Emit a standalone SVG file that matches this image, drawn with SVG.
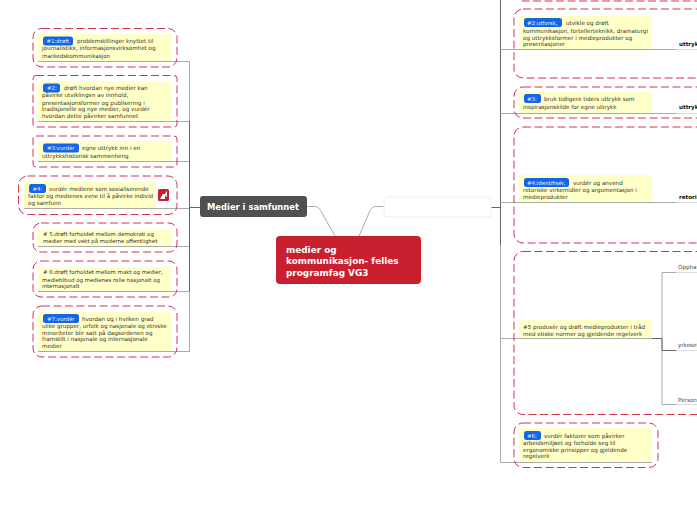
<svg xmlns="http://www.w3.org/2000/svg" width="697" height="520" viewBox="0 0 697 520">
<style>
text{font-family:"DejaVu Sans",Verdana,sans-serif}
.d{fill:none;stroke:#d0344f;stroke-width:1;stroke-dasharray:8 3.500}
.y{fill:#ffffc8}
.t{font-size:5.600px;fill:#333}
.t2{font-size:5.450px;fill:#333}
.b{fill:#1565e8}
.bt{font-size:5.400px;fill:#e8f0ff}
.l{fill:none;stroke:#aaa;stroke-width:1}
.f{fill:none;stroke:#ddd;stroke-width:1}
.k{fill:none;stroke:#666;stroke-width:1}
.u{font-size:5.600px;fill:#111;font-weight:bold}
.n{font-size:5.600px;fill:#444}
</style>
<g id="connectors">
<path class="l" d="M190 61.500H38M190 121.500H38M190 161.500H38M190 246.500H38M190 291.500H38M190 351.500H38M190 208.500H24"/>
<path class="l" d="M189.500 61V351.500"/>
<path class="k" d="M189.500 121V291M190 207.500H200"/>
<path class="l" d="M307 206.500H314C318 206.500 320 209 322 213L335 236M384 206.500H376C372 206.500 371 209 369 213L359 236"/>
<path class="k" d="M491 207.500H500.500"/>
<path class="k" d="M500.500 0V245"/>
<path class="l" d="M500.500 245V462.500"/>
<path class="l" d="M500.500 49.500H676M500.500 113.500H676M500.500 202.500H676M500.500 338.500H652M500.500 462.500H652"/>
<path class="l" d="M662 272.500V404.500M662 272.500H676M662 404.500H676"/>
<path class="k" d="M652 338.500H662V350.500H676"/>
<path class="f" d="M676 49.500H697M676 113.500H697M676 202.500H697M676 272.500H697M676 350.500H697M676 404.500H697"/>
</g>
<g id="node-1"><rect class="y" x="38" y="34" width="133" height="27"/><rect class="d" x="33" y="28.500" width="144" height="38.500" rx="9"/><rect class="b" x="43" y="36.500" width="30" height="9" rx="2.500"/><text class="bt" x="46.500" y="43">#1:drøft</text><text class="t" x="77" y="43">problemstillinger knyttet til</text><text class="t" x="42" y="50">journalistikk, informasjonsvirksomhet og</text><text class="t" x="42" y="58">markedskommunikasjon</text></g>
<g id="node-2"><rect class="y" x="38" y="81" width="133" height="40"/><rect class="d" x="33" y="75.500" width="144" height="51.500" rx="3"/><rect class="b" x="43" y="83.500" width="17" height="9" rx="2.500"/><text class="bt" x="47" y="90">#2:</text><text class="t" x="64" y="90">drøft hvordan nye medier kan</text><text class="t" x="42" y="97">påvirke utviklingen av innhold,</text><text class="t" x="42" y="105">presentasjonsformer og publisering i</text><text class="t" x="42" y="111">tradisjonelle og nye medier, og vurdér</text><text class="t" x="42" y="118">hvordan dette påvirker samfunnet</text></g>
<g id="node-3"><rect class="y" x="38" y="141" width="133" height="20"/><rect class="d" x="33" y="136" width="144" height="31" rx="3"/><rect class="b" x="43" y="143.500" width="36" height="9" rx="2.500"/><text class="bt" x="47" y="150">#3:vurdér</text><text class="t" x="82" y="150">egne uttrykk inn i en</text><text class="t" x="42" y="158">uttrykkshistorisk sammenheng</text></g>
<g id="node-4"><rect class="y" x="24" y="182" width="132" height="26"/><rect class="d" x="18.500" y="176" width="158.500" height="38.500" rx="9"/><rect class="b" x="29" y="184" width="17" height="9" rx="2.500"/><text class="bt" x="32.500" y="190.500">#4:</text><text class="t" x="49" y="190.500">vurdér mediene som sosialiserende</text><text class="t" x="28" y="198">faktor og medienes evne til å påvirke individ</text><text class="t" x="28" y="205">og samfunn</text><rect x="158" y="189" width="11" height="12" rx="1.500" fill="#c8202f"/><path d="M160 199L163 194H165V199ZM165 194L167 190.500V197L165.500 196Z" fill="#fff"/></g>
<g id="node-5"><rect class="y" x="38" y="229" width="133" height="17"/><rect class="d" x="33" y="223" width="144" height="29" rx="8"/><text class="t2" x="43" y="236">#&#160;5:drøft forholdet mellom demokrati og</text><text class="t2" x="43" y="243">medier med vekt på moderne offentlighet</text></g>
<g id="node-6"><rect class="y" x="38" y="267" width="133" height="24"/><rect class="d" x="33" y="261" width="144" height="36" rx="8"/><text class="t2" x="43" y="274">#&#160;6:drøft forholdet mellom makt og medier,</text><text class="t2" x="42" y="282">medietilbud og medienes rolle nasjonalt og</text><text class="t2" x="42" y="288">internasjonalt</text></g>
<g id="node-7"><rect class="y" x="38" y="312" width="133" height="39"/><rect class="d" x="33" y="306" width="144" height="51" rx="9"/><rect class="b" x="43" y="314" width="36" height="9" rx="2.500"/><text class="bt" x="47" y="320.500">#7:vurdér</text><text class="t" x="82" y="320.500">hvordan og i hvilken grad</text><text class="t" x="42" y="328">ulike grupper, urfolk og nasjonale og etniske</text><text class="t" x="42" y="335">minoriteter blir satt på dagsordenen og</text><text class="t" x="42" y="341">framstilt i nasjonale og internasjonale</text><text class="t" x="42" y="348">medier</text></g>
<g id="branch-left"><rect x="200" y="196" width="107" height="21" rx="3" fill="#505050"/><text x="207" y="210" font-size="8.400px" font-weight="bold" fill="#fff">Medier i samfunnet</text></g>
<g id="branch-right"><rect x="384" y="197" width="107" height="20" rx="3" fill="#fff" stroke="#eee"/></g>
<g id="root"><rect x="276" y="236" width="145" height="48" rx="4" fill="#c8202f"/><g font-size="8.900px" font-weight="bold" fill="#fff"><text x="286" y="253">medier og</text><text x="286" y="264">kommunikasjon- felles</text><text x="286" y="276">programfag VG3</text></g></g>
<g id="node-r1"><rect class="d" x="514" y="-40" width="220" height="41" rx="9"/></g>
<g id="node-r2"><rect class="y" x="519" y="16" width="133" height="33"/><rect class="d" x="514" y="9" width="220" height="69" rx="9"/><rect class="b" x="524" y="18" width="38" height="9" rx="2.500"/><text class="bt" x="527" y="25">#2:utforsk,</text><text class="t" x="566" y="25">utvikle og drøft</text><text class="t" x="523" y="33">kommunikasjon, fortellerteknikk, dramaturgi</text><text class="t" x="523" y="40">og uttrykksformer i medieprodukter og</text><text class="t" x="523" y="46">presentasjoner</text><text class="u" x="679" y="46">uttrykk</text></g>
<g id="node-r3"><rect class="y" x="519" y="92" width="133" height="21"/><rect class="d" x="514" y="87" width="220" height="31" rx="9"/><rect class="b" x="524" y="94" width="17" height="9" rx="2.500"/><text class="bt" x="527" y="101">#3:</text><text class="t" x="544" y="101">bruk tidligere tiders uttrykk som</text><text class="t" x="523" y="109">inspirasjonskilde for egne uttrykk</text><text class="u" x="679" y="109">uttrykk</text></g>
<g id="node-r4"><rect class="y" x="519" y="175" width="133" height="27"/><rect class="d" x="514" y="127" width="220" height="116" rx="9"/><rect class="b" x="524" y="178" width="45" height="9" rx="2.500"/><text class="bt" x="527" y="184.500">#4:identifisér,</text><text class="t" x="573" y="184.500">vurdér og anvend</text><text class="t" x="523" y="192">retoriske virkemidler og argumentasjon i</text><text class="t" x="523" y="199">medieprodukter</text><text class="u" x="679" y="199">retorikk</text></g>
<g id="node-r5"><rect class="y" x="519" y="320" width="133" height="18"/><rect class="d" x="514" y="251.500" width="220" height="163" rx="9"/><text class="t" x="523" y="329">#5 produsér og drøft medieprodukter i tråd</text><text class="t" x="523" y="336">med etiske normer og gjeldende regelverk</text><text class="n" x="678" y="269">Opphavsrett</text><text class="n" x="678" y="347">yrkesetikk</text><text class="n" x="678" y="402">Personvern</text></g>
<g id="node-r6"><rect class="y" x="519" y="428" width="133" height="34"/><rect class="d" x="514" y="423" width="144" height="44.500" rx="9"/><rect class="b" x="524" y="431" width="17" height="9" rx="2.500"/><text class="bt" x="527" y="437.500">#6:</text><text class="t" x="544" y="437.500">vurdér faktorer som påvirker</text><text class="t" x="523" y="445">arbeidsmiljøet og forholde seg til</text><text class="t" x="523" y="452">ergonomiske prinsipper og gjeldende</text><text class="t" x="523" y="458">regelverk</text></g>
</svg>
